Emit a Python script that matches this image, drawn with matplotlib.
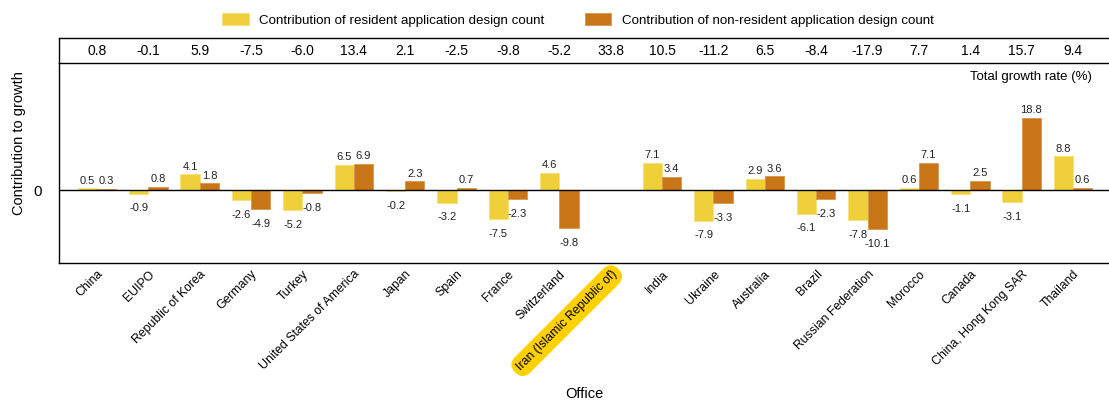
import matplotlib.pyplot as plt
import numpy as np

plt.rcParams["font.family"] = ["Liberation Sans", "DejaVu Sans"]

offices = [
    "China", "EUIPO", "Republic of Korea", "Germany", "Turkey",
    "United States of America", "Japan", "Spain", "France", "Switzerland",
    "Iran (Islamic Republic of)", "India", "Ukraine", "Australia", "Brazil",
    "Russian Federation", "Morocco", "Canada", "China, Hong Kong SAR", "Thailand",
]
resident = [0.5, -0.9, 4.1, -2.6, -5.2, 6.5, -0.2, -3.2, -7.5, 4.6,
            np.nan, 7.1, -7.9, 2.9, -6.1, -7.8, 0.6, -1.1, -3.1, 8.8]
non_resident = [0.3, 0.8, 1.8, -4.9, -0.8, 6.9, 2.3, 0.7, -2.3, -9.8,
                np.nan, 3.4, -3.3, 3.6, -2.3, -10.1, 7.1, 2.5, 18.8, 0.6]
total_growth = [0.8, -0.1, 5.9, -7.5, -6.0, 13.4, 2.1, -2.5, -9.8, -5.2,
                33.8, 10.5, -11.2, 6.5, -8.4, -17.9, 7.7, 1.4, 15.7, 9.4]
highlight = "Iran (Islamic Republic of)"

yellow = "#F0D03A"
orange = "#C97618"

W, H = 1109, 401
fig = plt.figure(figsize=(W / 100, H / 100), dpi=100)

ax_left = 59 / W
ax = fig.add_axes([ax_left, (H - 263.3) / H, 1 - ax_left, (263.3 - 63.3) / H])
hdr = fig.add_axes([ax_left, (H - 63.3) / H, 1 - ax_left, 25 / H], sharex=ax)

x = np.arange(len(offices))
w = 0.375
rect1 = ax.bar(x - w / 2, resident, width=w, color=yellow, edgecolor="#F5E27A", linewidth=0.6,
               label="Contribution of resident application design count")
rect2 = ax.bar(x + w / 2, non_resident, width=w, color=orange, edgecolor="#D9954A", linewidth=0.6,
               label="Contribution of non-resident application design count")


def autolabel(rects):
    for rect in rects:
        height = rect.get_height()
        if np.isnan(height):
            continue
        up = height >= 0
        ax.annotate(
            "{:.1f}".format(height),
            xy=(rect.get_x() + rect.get_width() / 2, height),
            xytext=(0, 2 if up else -7),
            textcoords="offset points",
            ha="center",
            va="bottom" if up else "top",
            fontsize=8,
            color="#222222",
        )


autolabel(rect1)
autolabel(rect2)

ax.axhline(0, color="black", linewidth=1.0)
ax.set_xlim(-0.74, len(offices) - 0.3)
ax.set_ylim(-19, 33)
ax.set_yticks([0])
ax.set_yticklabels(["0"], fontsize=11)
ax.tick_params(axis="both", length=0)
ax.tick_params(axis="y", pad=12)
for s in ["top", "right"]:
    ax.spines[s].set_visible(False)
for s in ["left", "bottom"]:
    ax.spines[s].set_linewidth(1.0)

ax.set_xticks(x)
labels = ax.set_xticklabels(offices, rotation=45, ha="right", va="top",
                            rotation_mode="anchor", fontsize=8.8)
for lab in labels:
    if lab.get_text() == highlight:
        lab.set_bbox(dict(boxstyle="round,pad=0.4,rounding_size=0.9",
                          facecolor="#FFD100", edgecolor="none"))
ax.set_xlabel("Office", fontsize=10.5)
ax.xaxis.set_label_coords(0.5, -0.62)
ax.set_ylabel("Contribution to growth", fontsize=10.5)
ax.yaxis.set_label_coords(-0.031, 0.6)

ax.text(0.984, 0.93, "Total growth rate (%)", transform=ax.transAxes,
        ha="right", va="center", fontsize=9.5)

# header row with total growth rates
hdr.set_ylim(0, 1)
hdr.tick_params(axis="both", length=0, labelbottom=False, labelleft=False)
hdr.spines["right"].set_visible(False)
for s in ["top", "left", "bottom"]:
    hdr.spines[s].set_linewidth(1.0)
for xi, t in zip(x, total_growth):
    hdr.text(xi, 0.5, "{:.1f}".format(t), ha="center", va="center", fontsize=10)

fig.legend(loc="center", bbox_to_anchor=(578 / W, 1 - 20 / H), ncol=2, frameon=False,
           fontsize=9.6, handlelength=2.0, handleheight=0.9, columnspacing=3.0)

fig.savefig("out.png", dpi=100)
